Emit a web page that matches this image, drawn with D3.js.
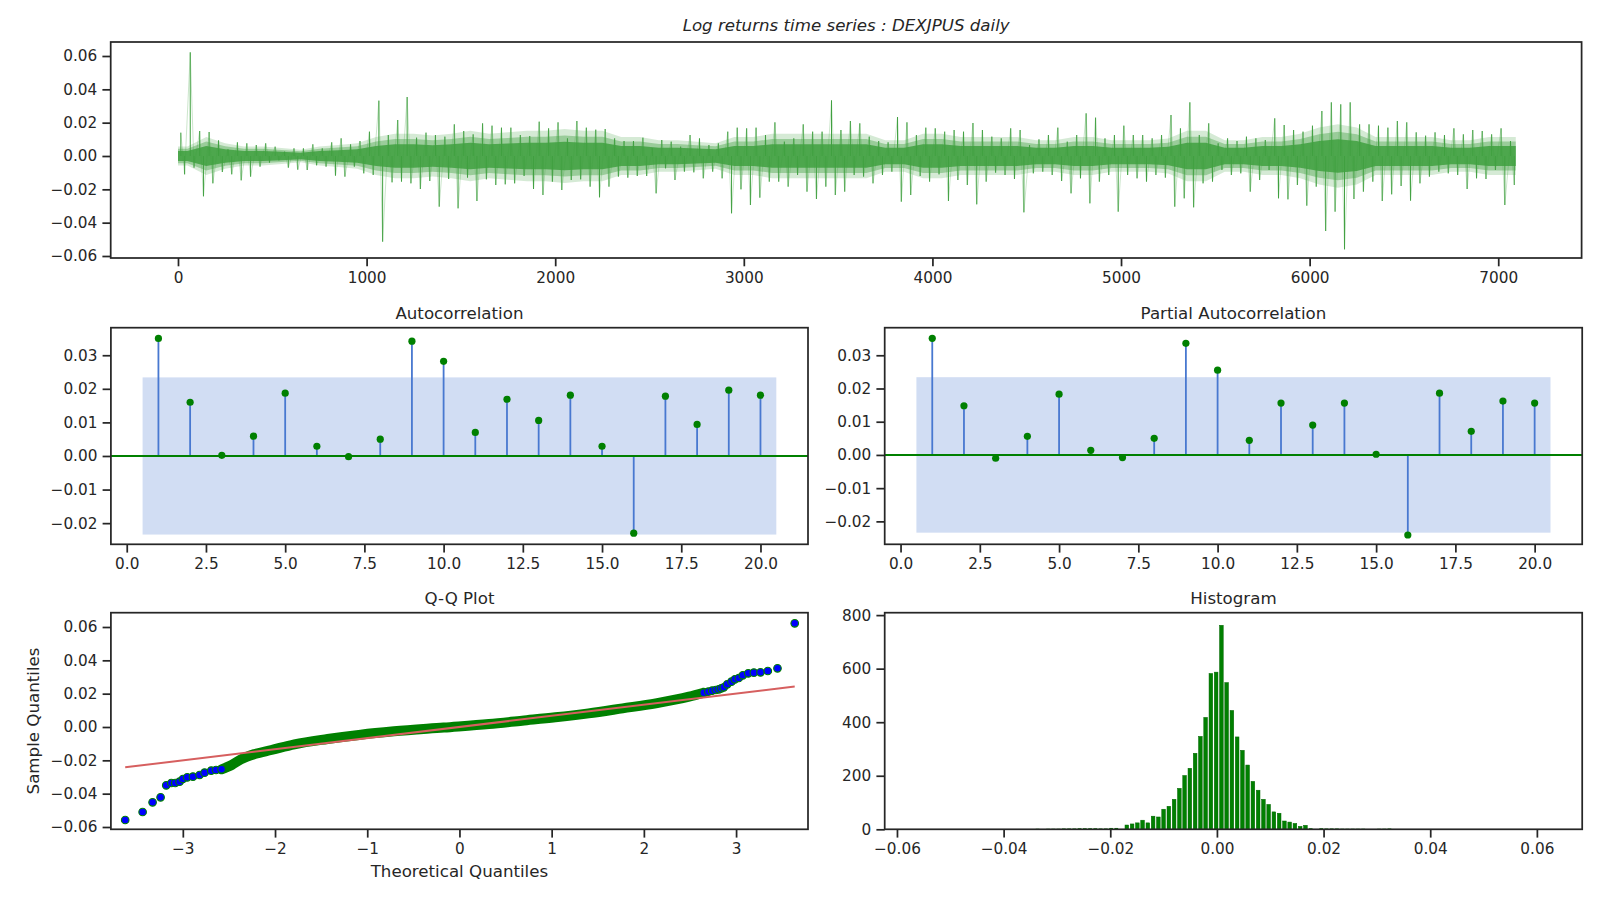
<!DOCTYPE html>
<html><head><meta charset="utf-8">
<script src="https://cdn.jsdelivr.net/npm/d3@7"></script>
<style>
body{margin:0;background:#fff;}
svg text{font-family:"DejaVu Sans",sans-serif;fill:#262626;}
</style></head><body>
<svg id="chart" width="1600" height="900"></svg>
<script>
// ---------------- DATA ----------------
// Time series: extreme log returns (max / min) in consecutive blocks of 50 observations
const tsBinSize = 50;
const tsHigh = [0.014,0.0622,0.015,0.0144,0.0094,0.004,0.0082,0.0076,0.0066,0.0076,
0.0056,0.0026,0.0046,0.0046,0.007,0.0046,0.0082,0.0106,0.007,0.009,
0.0146,0.0332,0.0126,0.0216,0.0354,0.011,0.014,0.0126,0.0116,0.019,
0.015,0.013,0.0196,0.0182,0.017,0.017,0.0126,0.012,0.0206,0.0166,
0.0202,0.0106,0.021,0.017,0.0158,0.0162,0.0106,0.009,0.009,0.011,
0.0046,0.0096,0.0086,0.0056,0.0126,0.0106,0.0066,0.0076,0.0146,0.017,
0.0166,0.017,0.0126,0.0202,0.0086,0.0106,0.019,0.0146,0.0146,0.0334,
0.0156,0.021,0.0196,0.0116,0.009,0.0082,0.0234,0.0202,0.0126,0.017,
0.0166,0.0146,0.0156,0.0146,0.0198,0.0156,0.0116,0.0106,0.0166,0.0156,
0.0066,0.01,0.0126,0.017,0.0086,0.0126,0.0256,0.023,0.0106,0.0126,
0.0182,0.0126,0.0126,0.0106,0.0126,0.0246,0.0166,0.0322,0.0126,0.0196,
0.0076,0.0106,0.009,0.0116,0.0106,0.0096,0.0226,0.0186,0.0156,0.0146,
0.0182,0.027,0.0322,0.031,0.0322,0.019,0.019,0.0182,0.017,0.021,
0.0202,0.0142,0.0122,0.0142,0.0126,0.0166,0.013,0.0156,0.015,0.013,
0.0166,0.009];
const tsLow = [-0.011,-0.007,-0.0242,-0.0164,-0.0096,-0.011,-0.0146,-0.0124,-0.0064,-0.004,
-0.0026,-0.007,-0.0082,-0.0084,-0.0056,-0.0064,-0.0118,-0.0124,-0.0064,-0.0104,
-0.0114,-0.0514,-0.0158,-0.0154,-0.0164,-0.0198,-0.015,-0.0304,-0.0138,-0.0314,
-0.013,-0.027,-0.014,-0.0174,-0.017,-0.0164,-0.012,-0.0198,-0.0234,-0.0154,
-0.0204,-0.0144,-0.014,-0.0184,-0.0248,-0.0184,-0.0124,-0.013,-0.012,-0.012,
-0.0224,-0.0074,-0.0144,-0.0094,-0.0098,-0.0134,-0.0094,-0.0134,-0.0344,-0.02,
-0.0294,-0.025,-0.0154,-0.0154,-0.0184,-0.0114,-0.0214,-0.0258,-0.0184,-0.0234,
-0.0214,-0.0114,-0.0124,-0.0164,-0.0114,-0.0094,-0.0274,-0.0234,-0.012,-0.0154,
-0.011,-0.027,-0.0144,-0.0174,-0.029,-0.0154,-0.01,-0.0114,-0.0138,-0.0338,
-0.0104,-0.0094,-0.0114,-0.015,-0.0224,-0.0134,-0.0284,-0.0154,-0.0114,-0.0334,
-0.0114,-0.0134,-0.0154,-0.0114,-0.013,-0.0304,-0.0254,-0.0308,-0.0164,-0.0154,
-0.0084,-0.0114,-0.0104,-0.0214,-0.0144,-0.0084,-0.0254,-0.026,-0.0174,-0.0298,
-0.0184,-0.045,-0.0334,-0.056,-0.0258,-0.0214,-0.0154,-0.027,-0.023,-0.018,
-0.0268,-0.0164,-0.0124,-0.0094,-0.0104,-0.0114,-0.0198,-0.0134,-0.0138,-0.0084,
-0.0294,-0.0174];
// half-width of the dense core of the series in consecutive blocks of 100 observations
const tsCoreBlock = 100;
const tsCore = [0.003,0.006,0.004,0.003,0.003,0.0025,0.002,0.003,0.0035,0.004,
0.006,0.007,0.007,0.0065,0.007,0.008,0.007,0.0075,0.008,0.008,
0.0085,0.008,0.008,0.006,0.006,0.005,0.005,0.0045,0.004,0.006,
0.006,0.007,0.007,0.007,0.007,0.007,0.007,0.005,0.005,0.007,
0.007,0.006,0.006,0.006,0.006,0.005,0.005,0.006,0.006,0.005,
0.005,0.005,0.0055,0.008,0.008,0.005,0.005,0.006,0.006,0.007,
0.009,0.01,0.009,0.006,0.006,0.006,0.006,0.005,0.005,0.006,0.006];
const tsLength = 7094;
const tsXTicks = [0,1000,2000,3000,4000,5000,6000,7000];
const tsYTicks = [-0.06,-0.04,-0.02,0.00,0.02,0.04,0.06];

// Autocorrelation / partial autocorrelation
const lags = [1,2,3,4,5,6,7,8,9,10,11,12,13,14,15,16,17,18,19,20];
const acfValues = [0.0350,0.0160,0.0002,0.0059,0.0187,0.0029,-0.0002,0.0050,0.0342,0.0282,
0.0070,0.0169,0.0106,0.0181,0.0029,-0.0230,0.0178,0.0094,0.0196,0.0181];
const pacfValues = [0.0351,0.0148,-0.0010,0.0056,0.0183,0.0014,-0.0008,0.0050,0.0336,0.0255,
0.0044,0.0156,0.0090,0.0156,0.0002,-0.0241,0.0186,0.0071,0.0162,0.0156];
const acfConf = 0.0234;
const pacfConf = 0.0234;
const corrXTicks = [0,2.5,5,7.5,10,12.5,15,17.5,20];
const corrYTicks = [-0.02,-0.01,0.00,0.01,0.02,0.03];

// Q-Q plot: dense body of the point cloud and distinct tail points
const qqBodyTheo = [-2.58,-2.47,-2.37,-2.22,-2.04,-1.79,-1.43,-1.07,-0.71,-0.17,0.32,0.68,1.04,1.40,1.77,2.13,2.49,2.65];
const qqBodySample = [-0.0254,-0.0228,-0.0194,-0.0162,-0.0138,-0.0104,-0.0072,-0.0046,-0.0026,-0.0003,0.0018,0.0038,0.0058,0.0082,0.0112,0.0142,0.0182,0.0206];
const qqTailTheo = [-3.625,-3.436,-3.328,-3.241,-3.180,-3.125,-3.082,-3.035,-2.999,-2.952,-2.890,-2.818,-2.764,-2.692,-2.640,-2.580,
2.650,2.700,2.741,2.780,2.813,2.840,2.867,2.904,2.950,2.987,3.030,3.073,3.132,3.193,3.265,3.344,3.449,3.636];
const qqTailSample = [-0.0558,-0.0510,-0.0452,-0.0422,-0.0350,-0.0336,-0.0336,-0.0328,-0.0312,-0.0302,-0.0298,-0.0288,-0.0274,-0.0262,-0.0258,-0.0254,
0.0206,0.0212,0.0218,0.0222,0.0226,0.0232,0.0238,0.0256,0.0272,0.0286,0.0294,0.0310,0.0322,0.0326,0.0328,0.0336,0.0352,0.0622];
const qqLineTheo = [-3.625,3.636];
const qqLineSample = [-0.0242,0.0243];
const qqXTicks = [-3,-2,-1,0,1,2,3];
const qqYTicks = [-0.06,-0.04,-0.02,0.00,0.02,0.04,0.06];

// Histogram: 120 equal bins starting at the sample minimum
const histBinStart = -0.0558;
const histBinWidth = 0.000985;
const histCounts = [1,0,0,0,1,0,0,0,0,0, 1,0,0,1,0,0,0,0,0,0,
0,1,2,1,2,2,2,3,3,3, 4,4,4,4,3,3,5,5,1,16,
20,24,34,24,49,46,75,86,112,153, 201,228,284,347,418,582,587,762,548,444,
345,295,240,179,146,112,93,65,60,31, 27,22,11,15,4,1,4,3,3,3,
2,2,2,2,2,1,1,2,2,3, 1,0,1,0,0,0,0,0,0,0,
0,0,0,0,0,0,0,0,0,0, 0,0,0,0,0,0,0,0,0,1];
const histXTicks = [-0.06,-0.04,-0.02,0.00,0.02,0.04,0.06];
const histYTicks = [0,200,400,600,800];

// ---------------- DRAWING ----------------
const svg = d3.select("#chart");
const INK = "#262626";
const TICK_FS = 15.28, LABEL_FS = 16.67;

const boxes = {
  ts:   {l:110.7, r:1581.6, t:42,    b:258},
  acf:  {l:110.9, r:808,    t:327.7, b:544.3},
  pacf: {l:884.7, r:1582.2, t:327.7, b:544.3},
  qq:   {l:110.9, r:808,    t:612.7, b:829.3},
  hist: {l:884.7, r:1582.2, t:612.7, b:829.3}
};

function makeScales(box, xd, yd){
  return {x:d3.scaleLinear().domain(xd).range([box.l,box.r]),
          y:d3.scaleLinear().domain(yd).range([box.b,box.t])};
}
function clip(id, box){
  svg.append("clipPath").attr("id",id).append("rect")
    .attr("x",box.l).attr("y",box.t).attr("width",box.r-box.l).attr("height",box.b-box.t);
  return svg.append("g").attr("clip-path",`url(#${id})`);
}
function styleAxis(g){
  g.select(".domain").remove();
  g.attr("font-family",null).attr("font-size",null);
  g.selectAll(".tick line").attr("stroke",INK).attr("stroke-width",1.74);
  g.selectAll(".tick text").attr("font-size",TICK_FS).attr("fill",INK);
}
function axesFrame(box, s, xt, yt, xf, yf){
  svg.append("g").attr("transform",`translate(0,${box.b})`)
    .call(d3.axisBottom(s.x).tickValues(xt).tickFormat(xf).tickSize(8.3).tickPadding(6))
    .call(styleAxis);
  svg.append("g").attr("transform",`translate(${box.l},0)`)
    .call(d3.axisLeft(s.y).tickValues(yt).tickFormat(yf).tickSize(8.3).tickPadding(5.2))
    .call(styleAxis);
  svg.append("rect").attr("x",box.l).attr("y",box.t)
    .attr("width",box.r-box.l).attr("height",box.b-box.t)
    .attr("fill","none").attr("stroke",INK).attr("stroke-width",1.74);
}
function title(box, txt, italic, baseline){
  svg.append("text").attr("x",(box.l+box.r)/2).attr("y",baseline)
    .attr("text-anchor","middle").attr("font-size",LABEL_FS)
    .attr("font-style",italic?"italic":null).text(txt);
}

// ---- Time series ----
{
  const b = boxes.ts;
  const s = makeScales(b,[-356.8,7442],[-0.0612,0.0684]);
  const g = clip("c-ts", b);
  const SERIES = "#40a040";
  const core = tsCore.map((c,i)=>({x:Math.min(i*tsCoreBlock + tsCoreBlock/2, tsLength-1), c}));
  core.unshift({x:0, c:tsCore[0]});
  core.push({x:tsLength-1, c:tsCore[tsCore.length-1]});
  // soft halo and dense core of the series (density of overlapping daily strokes)
  [[1.9,0.22],[1.45,0.4],[1.0,0.85]].forEach(([k,op])=>{
    g.append("path").datum(core)
      .attr("d", d3.area().x(d=>s.x(d.x)).y0(d=>s.y(-d.c*k)).y1(d=>s.y(d.c*k)))
      .attr("fill",SERIES).attr("opacity",op);
  });
  // block extremes: thin spikes joined by a faint trace
  const spikes = [];
  tsHigh.forEach((h,i)=>{
    spikes.push({x:i*tsBinSize + tsBinSize*0.3, v:h});
    spikes.push({x:i*tsBinSize + tsBinSize*0.7, v:tsLow[i]});
  });
  g.append("path").datum(spikes)
    .attr("d", d3.line().x(d=>s.x(d.x)).y(d=>s.y(d.v)))
    .attr("fill","none").attr("stroke",SERIES).attr("stroke-width",0.6).attr("opacity",0.45);
  g.selectAll("line.spike").data(spikes).join("line").attr("class","spike")
    .attr("x1",d=>s.x(d.x)).attr("x2",d=>s.x(d.x))
    .attr("y1",s.y(0)).attr("y2",d=>s.y(d.v))
    .attr("stroke",SERIES).attr("stroke-width",1);
  axesFrame(b, s, tsXTicks, tsYTicks, d3.format("d"), d3.format(".2f"));
  title(b, "Log returns time series : DEXJPUS daily", true, 31);
}

// ---- ACF / PACF ----
function corrPanel(key, values, conf, yd, ttl){
  const b = boxes[key];
  const s = makeScales(b,[-0.5,21.5],yd);
  const g = clip("c-"+key, b);
  g.append("rect").attr("x",s.x(lags[0]-0.5)).attr("width",s.x(lags[lags.length-1]+0.5)-s.x(lags[0]-0.5))
    .attr("y",s.y(conf)).attr("height",s.y(-conf)-s.y(conf)).attr("fill","#d1ddf3");
  g.selectAll("line.stem").data(lags).join("line").attr("class","stem")
    .attr("x1",d=>s.x(d)).attr("x2",d=>s.x(d))
    .attr("y1",s.y(0)).attr("y2",(d,i)=>s.y(values[i]))
    .attr("stroke","#4878d0").attr("stroke-width",1.8);
  g.append("line").attr("x1",b.l).attr("x2",b.r).attr("y1",s.y(0)).attr("y2",s.y(0))
    .attr("stroke","#008000").attr("stroke-width",2);
  g.selectAll("circle").data(lags).join("circle")
    .attr("cx",d=>s.x(d)).attr("cy",(d,i)=>s.y(values[i])).attr("r",3.6).attr("fill","#008000");
  axesFrame(b, s, corrXTicks, corrYTicks, d3.format(".1f"), d3.format(".2f"));
  title(b, ttl, false, b.t-8.7);
}
corrPanel("acf", acfValues, acfConf, [-0.0263,0.0382], "Autocorrelation");
corrPanel("pacf", pacfValues, pacfConf, [-0.0269,0.0383], "Partial Autocorrelation");

// ---- Q-Q plot ----
{
  const b = boxes.qq;
  const s = makeScales(b,[-3.78,3.78],[-0.06138,0.06858]);
  const g = clip("c-qq", b);
  const body = qqBodyTheo.map((t,i)=>[t,qqBodySample[i]]);
  g.append("path").datum(body)
    .attr("d", d3.line().curve(d3.curveMonotoneX).x(d=>s.x(d[0])).y(d=>s.y(d[1])))
    .attr("fill","none").attr("stroke","#008000").attr("stroke-width",10)
    .attr("stroke-linecap","round").attr("stroke-linejoin","round");
  g.selectAll("circle").data(qqTailTheo).join("circle")
    .attr("cx",d=>s.x(d)).attr("cy",(d,i)=>s.y(qqTailSample[i])).attr("r",3.8)
    .attr("fill","#0000ff").attr("stroke","#008000").attr("stroke-width",1.1);
  g.append("line").attr("x1",s.x(qqLineTheo[0])).attr("x2",s.x(qqLineTheo[1]))
    .attr("y1",s.y(qqLineSample[0])).attr("y2",s.y(qqLineSample[1]))
    .attr("stroke","#d65f5f").attr("stroke-width",2);
  axesFrame(b, s, qqXTicks, qqYTicks, d3.format("d"), d3.format(".2f"));
  title(b, "Q-Q Plot", false, b.t-8.7);
  svg.append("text").attr("x",(b.l+b.r)/2).attr("y",877).attr("text-anchor","middle")
    .attr("font-size",LABEL_FS).text("Theoretical Quantiles");
  svg.append("text").attr("transform",`translate(39,${(b.t+b.b)/2}) rotate(-90)`)
    .attr("text-anchor","middle").attr("font-size",LABEL_FS).text("Sample Quantiles");
}

// ---- Histogram ----
{
  const b = boxes.hist;
  const s = makeScales(b,[-0.0623,0.0685],[0,809]);
  const g = clip("c-hist", b);
  const bins = histCounts.map((c,k)=>({x0:histBinStart+k*histBinWidth, c}));
  const binPx = s.x(histBinWidth) - s.x(0);
  g.selectAll("rect").data(bins.filter(d=>d.c>0)).join("rect")
    .attr("x",d=>s.x(d.x0)+binPx*0.15).attr("width",binPx*0.7)
    .attr("y",d=>s.y(d.c)).attr("height",d=>s.y(0)-s.y(d.c))
    .attr("fill","#008000")
    .attr("stroke",d=>d.c>5?"#006400":"none").attr("stroke-width",0.5);
  axesFrame(b, s, histXTicks, histYTicks, d3.format(".2f"), d3.format("d"));
  title(b, "Histogram", false, b.t-8.7);
}
</script>
</body></html>
